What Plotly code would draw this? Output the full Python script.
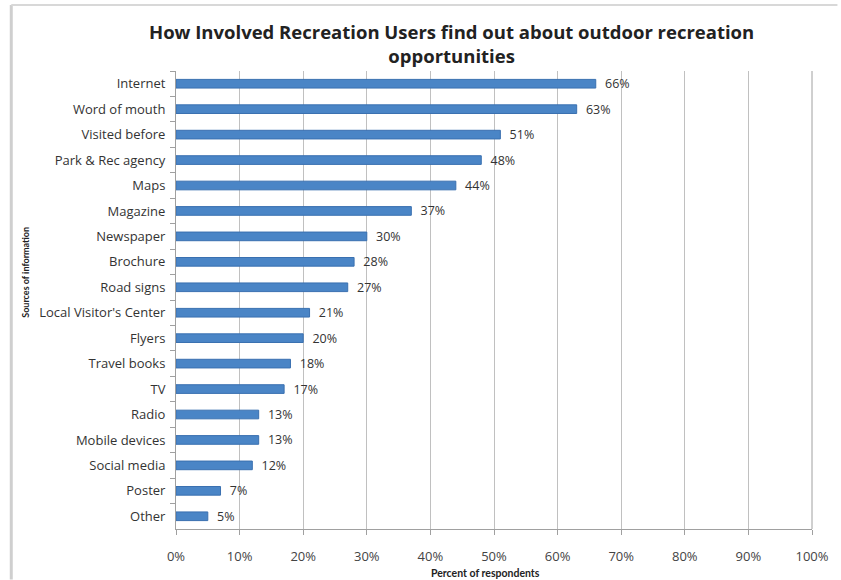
import plotly.graph_objects as go

# Survey results: where involved recreation users learn about opportunities
sources = [
    "Internet", "Word of mouth", "Visited before", "Park & Rec agency",
    "Maps", "Magazine", "Newspaper", "Brochure", "Road signs",
    "Local Visitor's Center", "Flyers", "Travel books", "TV", "Radio",
    "Mobile devices", "Social media", "Poster", "Other",
]
percent = [66, 63, 51, 48, 44, 37, 30, 28, 27, 21, 20, 18, 17, 13, 13, 12, 7, 5]
x_ticks = [0, 10, 20, 30, 40, 50, 60, 70, 80, 90, 100]
x_tick_labels = [f"{v}%" for v in x_ticks]

FONT = "'Open Sans', sans-serif"
TITLE_FONT = "Lato, sans-serif"

fig = go.Figure(
    go.Bar(
        x=percent,
        y=sources,
        orientation="h",
        width=0.34,
        marker=dict(color="#4a85c6", line=dict(color="#3a70b0", width=1)),
        text=[f"\u2002{v}%" for v in percent],
        textposition="outside",
        constraintext="none",
        textfont=dict(family=FONT, size=12.5, color="#333333"),
        cliponaxis=False,
        hoverinfo="skip",
    )
)

fig.update_layout(
    width=841,
    height=580,
    margin=dict(l=176, r=20, t=71, b=51),
    paper_bgcolor="white",
    plot_bgcolor="white",
    showlegend=False,
    font=dict(family=FONT, size=12, color="#333333"),
    title=dict(
        text="<b>How Involved Recreation Users find out about outdoor recreation<br>opportunities</b>",
        x=0.537,
        xanchor="center",
        y=0.933,
        yanchor="middle",
        yref="container",
        font=dict(family=FONT, size=18.5, color="#222222"),
    ),
    xaxis=dict(
        range=[0, 100],
        tickvals=x_ticks,
        ticktext=x_tick_labels,
        showgrid=True,
        gridcolor="#c0c0c0",
        gridwidth=1,
        zeroline=False,
        showline=True,
        linecolor="#a0a0a0",
        ticks="outside",
        ticklen=5,
        tickcolor="#a0a0a0",
        ticklabelstandoff=10,
        tickfont=dict(family=FONT, size=13, color="#444444"),
    ),
    yaxis=dict(
        autorange="reversed",
        showgrid=False,
        showline=True,
        linecolor="#a0a0a0",
        ticks="outside",
        tickson="boundaries",
        ticklen=5,
        tickcolor="#a0a0a0",
        tickfont=dict(family=FONT, size=13, color="#333333"),
        ticklabelstandoff=7,
    ),
    annotations=[
        dict(
            text="<b>Percent of respondents</b>",
            xref="paper", yref="paper",
            x=0.487, y=-0.096,
            xanchor="center", yanchor="middle",
            showarrow=False,
            font=dict(family=TITLE_FONT, size=10.5, color="#222222"),
        ),
        dict(
            text="<b>Sources of information</b>",
            xref="paper", yref="paper",
            x=-0.237, y=0.56,
            xanchor="center", yanchor="middle",
            textangle=-90,
            showarrow=False,
            font=dict(family=TITLE_FONT, size=9, color="#222222"),
        ),
    ],
    shapes=[
        # right edge of the plot area drawn as a darker frame line
        dict(type="line", xref="paper", yref="paper", x0=1, x1=1, y0=0, y1=1,
             line=dict(color="#a0a0a0", width=1)),
        # outer chart frame (left and top edges)
        dict(type="line", xref="paper", yref="paper", x0=-0.259, x1=-0.259,
             y0=-0.11, y1=1.144, line=dict(color="#cfcfcf", width=3)),
        dict(type="line", xref="paper", yref="paper", x0=-0.259, x1=1.04,
             y0=1.144, y1=1.144, line=dict(color="#d8d8d8", width=2)),
    ],
)

fig.write_html("out.html")
